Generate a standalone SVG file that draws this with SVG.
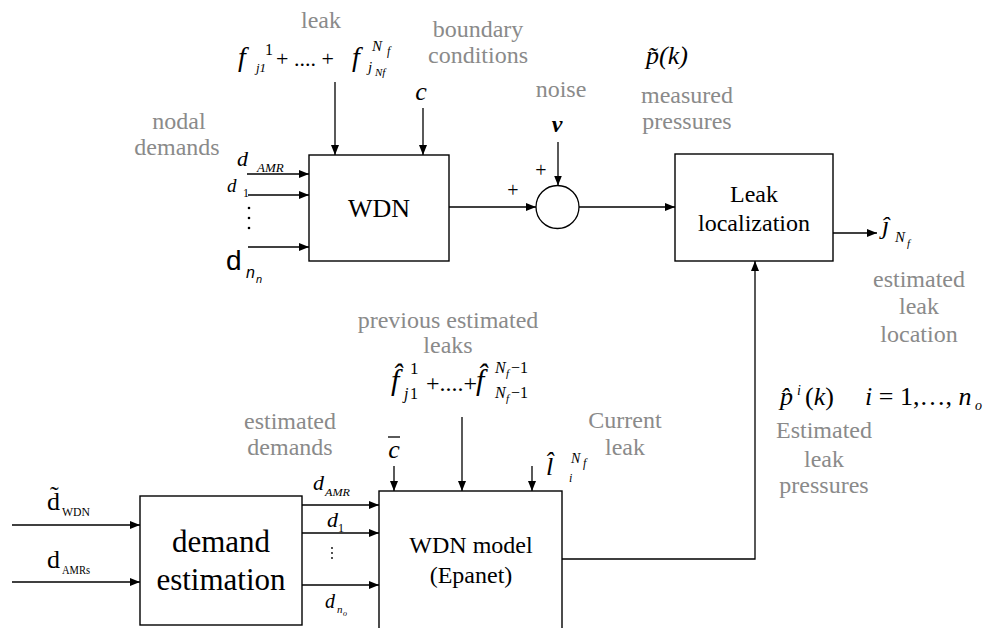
<svg xmlns="http://www.w3.org/2000/svg" width="985" height="628" viewBox="0 0 985 628">
<style>
text{font-family:"Liberation Serif","Times New Roman",serif;fill:#000}
text.sans{font-family:"Liberation Sans",Arial,sans-serif}
.lbl{font-size:24px;fill:#8a8a8a;text-anchor:middle}
.box{fill:#fff;stroke:#000;stroke-width:1.4}
.in{font-style:italic}
.mid{text-anchor:middle}
.conn path{fill:none;stroke:#000;stroke-width:1.3;marker-end:url(#ah)}
.dot{fill:#000}
</style>
<defs>
<marker id="ah" viewBox="0 0 10 8" refX="10" refY="4" markerWidth="10" markerHeight="8" orient="auto" markerUnits="userSpaceOnUse">
<path d="M0,0 L10,4 L0,8 z" fill="#000"/>
</marker>
</defs>
<rect width="985" height="628" fill="#fff"/>

<g id="conn" class="conn">
<path d="M335,82 V155"/>
<path d="M423,108 V155"/>
<path d="M247,174 H309"/>
<path d="M248,195 H309"/>
<path d="M248,247 H309"/>
<path d="M449,207 H536"/>
<path d="M558,142 V185.5"/>
<path d="M579,207 H675"/>
<path d="M833,233 H877"/>
<path d="M562,559 H755 V261"/>
<path d="M12,525 H140"/>
<path d="M12,582 H140"/>
<path d="M302,505 H379"/>
<path d="M302,533 H379"/>
<path d="M302,585 H379"/>
<path d="M394,466 V491"/>
<path d="M462,417 V491"/>
<path d="M532,466 V491"/>
</g>

<g id="wdn">
<rect class="box" x="309" y="155" width="140" height="106"/>
<text class="mid" x="379" y="217" font-size="26">WDN</text>
</g>

<g id="sum">
<circle cx="557.5" cy="207" r="21.5" fill="#fff" stroke="#000" stroke-width="1.3"/>
<text class="mid" x="513" y="197" font-size="20">+</text>
<text class="mid" x="541" y="177" font-size="20">+</text>
</g>

<g id="leakloc">
<rect class="box" x="675" y="154" width="158" height="107"/>
<text class="mid" x="754" y="202" font-size="24">Leak</text>
<text class="mid" x="754" y="231" font-size="24">localization</text>
</g>

<g id="demest">
<rect class="box" x="140" y="496" width="162" height="129"/>
<text class="mid" x="221" y="552" font-size="31">demand</text>
<text class="mid" x="221" y="590" font-size="31">estimation</text>
</g>

<g id="wdnmodel">
<rect class="box" x="379" y="491" width="183" height="142"/>
<text class="mid" x="471" y="553" font-size="24">WDN model</text>
<text class="mid" x="471" y="583" font-size="24">(Epanet)</text>
</g>

<g id="labels">
<text class="lbl" x="321" y="28">leak</text>
<text class="lbl" x="478" y="37">boundary</text>
<text class="lbl" x="478" y="63">conditions</text>
<text class="lbl" x="179" y="129">nodal</text>
<text class="lbl" x="177" y="155">demands</text>
<text class="lbl" x="561" y="97">noise</text>
<text class="lbl" x="687" y="103">measured</text>
<text class="lbl" x="687" y="129">pressures</text>
<text class="lbl" x="919" y="287">estimated</text>
<text class="lbl" x="919" y="314">leak</text>
<text class="lbl" x="919" y="342">location</text>
<text class="lbl" x="448" y="328">previous estimated</text>
<text class="lbl" x="448" y="353">leaks</text>
<text class="lbl" x="290" y="429">estimated</text>
<text class="lbl" x="290" y="455">demands</text>
<text class="lbl" x="625" y="428">Current</text>
<text class="lbl" x="625" y="455">leak</text>
<text class="lbl" x="824" y="438">Estimated</text>
<text class="lbl" x="824" y="467">leak</text>
<text class="lbl" x="824" y="493">pressures</text>
</g>

<g id="math-top">
<text class="in" x="238" y="66" font-size="28">f</text>
<text x="265" y="55" font-size="16">1</text>
<text class="in" x="256" y="72" font-size="13">j1</text>
<text x="276" y="66" font-size="22">+ .... +</text>
<text class="in" x="352" y="66" font-size="28">f</text>
<text class="in" x="372" y="51" font-size="15">N</text>
<text class="in" x="387" y="55" font-size="12">f</text>
<text class="in" x="368" y="72" font-size="15">j</text>
<text class="in" x="375" y="76" font-size="11">Nf</text>
<text class="in mid" x="421" y="100" font-size="26">c</text>
<text class="in mid" x="557" y="132" font-size="24" font-weight="bold">v</text>
<text class="in" x="646" y="64" font-size="26">p̃(k)</text>
<text class="in" x="882" y="234" font-size="26">ĵ</text>
<text class="in" x="895" y="242" font-size="15">N</text>
<text class="in" x="907" y="247" font-size="11">f</text>
</g>

<g id="math-dem">
<text class="in" x="237" y="166" font-size="22">d</text>
<text class="in" x="257" y="172" font-size="13">AMR</text>
<text class="in" x="227" y="192" font-size="19">d</text>
<text x="243" y="197" font-size="12">1</text>
<circle class="dot" cx="249" cy="208" r="1.3"/>
<circle class="dot" cx="249" cy="218" r="1.3"/>
<circle class="dot" cx="249" cy="228" r="1.3"/>
<text class="sans" x="226" y="270" font-size="28">d</text>
<text class="sans in" x="246" y="278" font-size="16">n</text>
<text class="sans in" x="256" y="283" font-size="11">n</text>
</g>

<g id="math-bottom">
<text x="47" y="510" font-size="26">d̃</text>
<text x="62" y="516" font-size="12" textLength="28" lengthAdjust="spacingAndGlyphs">WDN</text>
<text x="47" y="568" font-size="26">d</text>
<text x="62" y="574" font-size="12" textLength="28" lengthAdjust="spacingAndGlyphs">AMRs</text>
<text class="in" x="313" y="490" font-size="22">d</text>
<text class="in" x="325" y="496" font-size="11" textLength="25" lengthAdjust="spacingAndGlyphs">AMR</text>
<text class="in" x="327" y="527" font-size="22">d</text>
<text x="338" y="532" font-size="12">1</text>
<circle class="dot" cx="332" cy="548" r="0.9"/>
<circle class="dot" cx="332" cy="553" r="0.9"/>
<circle class="dot" cx="332" cy="558" r="0.9"/>
<text class="in" x="325" y="608" font-size="20">d</text>
<text class="in" x="337" y="613" font-size="11">n</text>
<text class="in" x="343" y="616" font-size="8">o</text>

<text class="in" x="391" y="390" font-size="30">f̂</text>
<text x="410" y="374" font-size="17">1</text>
<text class="in" x="404" y="399" font-size="16">j</text>
<text x="410" y="399" font-size="16">1</text>
<text x="426" y="391" font-size="24">+....+</text>
<text class="in" x="476" y="390" font-size="30">f̂</text>
<text class="in" x="495" y="373" font-size="16">N</text>
<text class="in" x="506" y="377" font-size="11">f</text>
<text x="511" y="373" font-size="16">−1</text>
<text class="in" x="495" y="398" font-size="16">N</text>
<text class="in" x="506" y="402" font-size="11">f</text>
<text x="511" y="398" font-size="16">−1</text>

<text class="in mid" x="394" y="458" font-size="26">c</text>
<line x1="388" y1="437" x2="400" y2="437" stroke="#000" stroke-width="1.3"/>

<text class="in" x="546" y="475" font-size="26">l̂</text>
<text class="in" x="571" y="463" font-size="14">N</text>
<text class="in" x="583" y="467" font-size="12">f</text>
<text class="in" x="569" y="482" font-size="12">i</text>

<text class="in" x="780" y="405" font-size="26">p̂</text>
<text class="in" x="797" y="395" font-size="14">i</text>
<text x="805" y="405" font-size="26">(<tspan font-style="italic">k</tspan>)</text>
<text x="865" y="405" font-size="26"><tspan font-style="italic">i</tspan> = 1,…, <tspan font-style="italic">n</tspan></text>
<text class="in" x="975" y="410" font-size="14">o</text>
</g>
</svg>
